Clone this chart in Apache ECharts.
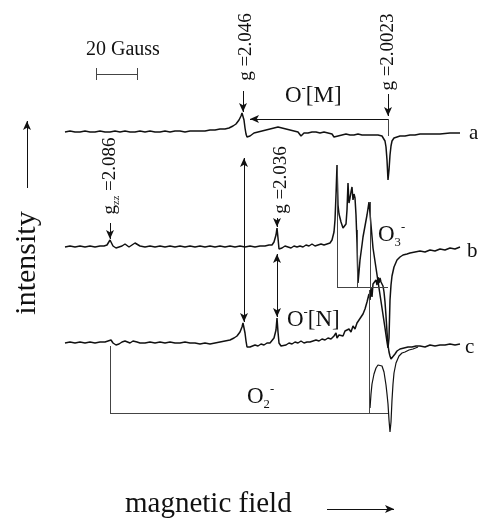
<!DOCTYPE html>
<html>
<head>
<meta charset="utf-8">
<script src="https://cdn.jsdelivr.net/npm/echarts@6/dist/echarts.min.js"></script>
<style>html,body{margin:0;padding:0;background:#fff;}#c{width:478px;height:520px;}</style>
</head>
<body>
<div id="c"></div>
<script>
// Field (horizontal, plot units) and signal (vertical, plot units, increasing downward)
const spectrumA = [[65,132],[70,131],[75,132],[80,132],[85,131],[90,132],[95,132],[100,131],[105,132],[110,132],[115,131],[120,132],[125,131],[130,132],[135,132],[140,131],[145,132],[150,131],[155,132],[160,132],[165,131],[170,132],[175,131],[180,131],[185,132],[190,131],[195,131],[200,131],[205,131],[210,130],[215,130],[220,129],[225,129],[229,128],[233,126],[236,124],[239,120],[241,116],[242,113],[243,114],[244,120],[245,128],[246,134],[247,137],[248,138],[250,136],[252,134],[254,133],[256,134],[258,132],[260,133],[262,131],[264,132],[266,130],[268,131],[270,129],[272,130],[274,128],[276,129],[278,127],[280,129],[282,128],[284,130],[286,129],[288,131],[290,130],[292,132],[294,131],[296,133],[298,132],[300,134],[301,136],[302,137],[303,135],[304,133],[306,132],[308,133],[310,131],[312,132],[314,130],[316,132],[318,131],[320,133],[322,131],[324,132],[326,131],[328,133],[330,132],[332,134],[334,137],[336,138],[338,136],[340,137],[342,135],[344,136],[346,134],[348,136],[350,135],[352,137],[354,135],[356,136],[358,134],[360,136],[362,135],[364,137],[366,135],[368,136],[370,135],[372,137],[374,135],[376,136],[378,135],[380,137],[382,136],[384,138],[385,141],[386,147],[387,160],[388,180],[389,170],[390,155],[391,146],[392,141],[394,138],[397,137],[400,136],[405,136],[410,135],[415,135],[420,134],[430,134],[440,134],[450,133],[460,133]];

const spectrumB = [[65,247],[70,246],[75,247],[80,246],[85,247],[90,246],[95,247],[100,246],[104,246],[107,245],[109,243],[110,240],[111,242],[113,246],[116,248],[119,247],[122,246],[125,244],[127,246],[129,247],[132,245],[135,243],[137,245],[140,246],[145,247],[150,246],[155,247],[160,246],[165,247],[170,246],[175,247],[180,246],[185,247],[190,246],[195,247],[200,246],[205,247],[210,246],[215,247],[220,246],[225,247],[230,246],[235,247],[240,246],[245,247],[250,246],[255,247],[260,246],[265,246],[269,245],[272,245],[274,242],[276,235],[277,228],[278,238],[279,249],[280,251],[282,248],[285,246],[288,247],[291,248],[294,246],[297,247],[300,246],[303,247],[306,245],[309,246],[312,244],[315,246],[318,245],[321,244],[324,245],[327,244],[330,243],[332,240],[334,232],[335,220],[336,195],[337,165],[338,205],[339,214],[341,222],[343,228],[345,230],[346,224],[347,210],[348,183],[349,203],[350,198],[351,192],[352,187],[353,200],[354,194],[355,198],[356,215],[357,243],[358,283],[359,272],[360,260],[362,245],[363,237],[365,226],[367,215],[369,202],[371,225],[373,248],[376,268],[379,288],[382,308],[385,328],[387,342],[388,348],[389,338],[390,300],[391,285],[392,276],[394,267],[397,260],[400,257],[403,255],[407,254],[410,253],[415,252],[420,251],[425,252],[430,250],[435,251],[440,249],[445,250],[450,248],[455,249],[460,247]];

const spectrumC = [[65,343],[70,342],[75,343],[80,342],[85,343],[90,342],[95,343],[100,342],[105,342],[108,341],[110,339],[111,340],[113,343],[116,345],[119,344],[122,342],[125,341],[127,343],[130,343],[133,341],[135,340],[137,342],[140,343],[145,343],[150,342],[155,343],[160,342],[165,343],[170,342],[175,343],[180,343],[185,342],[190,343],[195,343],[200,344],[205,343],[210,344],[215,343],[220,342],[225,341],[230,340],[234,338],[237,336],[240,332],[242,327],[243,323],[244,325],[245,333],[246,341],[247,347],[248,348],[250,347],[252,346],[255,345],[258,346],[261,344],[264,345],[267,343],[270,343],[272,341],[274,338],[276,330],[277,318],[278,332],[279,343],[281,346],[283,344],[286,345],[289,343],[292,344],[295,342],[298,343],[301,341],[304,343],[307,342],[310,342],[313,341],[316,340],[319,341],[322,339],[325,340],[328,338],[331,339],[334,336],[336,333],[337,338],[339,335],[341,333],[343,336],[345,331],[347,333],[349,329],[351,332],[353,326],[355,329],[357,323],[359,322],[361,317],[363,314],[365,309],[367,302],[369,294],[370,300],[371,288],[372,297],[373,284],[375,286],[376,280],[377,285],[378,277],[379,283],[380,278],[381,282],[382,281],[383,286],[384,292],[385,302],[386,316],[387,332],[388,345],[389,352],[390,356],[391,359],[392,360],[393,358],[395,354],[397,351],[400,349],[404,348],[408,347],[412,347],[416,346],[420,346],[425,347],[430,345],[435,346],[440,345],[445,345],[450,344],[455,345],[460,344]];

const spectrumO2 = [[370,408],[371,394],[372,384],[374,374],[376,368],[378,365],[380,363],[382,366],[384,372],[386,385],[387,394],[388,404],[389,420],[390,432],[391,422],[392,400],[393,384],[394,373],[396,363],[399,356],[402,353],[405,352],[409,350],[413,349],[418,347]];

// Brackets and guide segments [[x1,y1],[x2,y2]]
const bracketSegments = [
  [[388,136],[388,119]],
  [[337,165],[337,287]],[[357,230],[357,287]],[[370,202],[370,287]],[[337,287],[388,287]],
  [[110,346],[110,413]],[[110,413],[388,413]],[[369,290],[369,413]],
  [[96,74],[137,74]],[[96,68],[96,80]],[[137,68],[137,80]]
];
// Single-headed arrows (head at second point)
const arrowSegments = [
  [[243,91],[243,112]],[[388,94],[388,116]],[[110,223],[110,239]],[[277,218],[277,227]],
  [[388,119],[250,119]],[[27,188],[27,121]],[[327,509],[394,509]]
];
// Double-headed arrows
const doubleArrows = [[[244,158],[244,322]],[[277,254],[277,317]]];

const FONT = "'Liberation Serif','Times New Roman',serif";

function spec(data, w){
  return {type:'line', data:data, symbol:'none', silent:true, animation:false,
    lineStyle:{color:'#111', width:w}};
}
const markLines = [];
bracketSegments.forEach(s=>markLines.push([{coord:s[0],symbol:'none'},{coord:s[1],symbol:'none',lineStyle:{color:'#444',width:1}}]));
arrowSegments.forEach(s=>markLines.push([{coord:s[0],symbol:'none'},{coord:s[1],symbol:'arrow',symbolSize:[6,9]}]));
doubleArrows.forEach(s=>markLines.push([{coord:s[0],symbol:'arrow',symbolSize:[6,9]},{coord:s[1],symbol:'arrow',symbolSize:[6,9]}]));

function txt(x,y,text,size,opts){
  opts = opts||{};
  return {type:'text', x:x, y:y, rotation:opts.rot||0, silent:true,
    style:Object.assign({text:text, font:size+'px '+FONT, fill:'#111',
      align:opts.align||'left', textAlign:opts.align||'left',
      verticalAlign:'middle', textVerticalAlign:'middle'}, opts.rich?{rich:opts.rich}:{})};
}
const richBase = (s)=>({
  n:{fontSize:s, fontFamily:FONT, lineHeight:s*1.2, verticalAlign:'middle', fill:'#111'},
  sup:{fontSize:s*0.55, fontFamily:FONT, lineHeight:s*1.2, verticalAlign:'top', fill:'#111'},
  sub:{fontSize:s*0.55, fontFamily:FONT, lineHeight:s*1.2, verticalAlign:'bottom', fill:'#111'}
});
const R = Math.PI/2;

const chart = echarts.init(document.getElementById('c'), null, {renderer:'canvas'});
chart.setOption({
  backgroundColor:'#fff',
  animation:false,
  grid:{left:0,right:0,top:0,bottom:0},
  xAxis:{type:'value',min:0,max:478,show:false},
  yAxis:{type:'value',min:0,max:520,inverse:true,show:false},
  series:[
    spec(spectrumA,1.5), spec(spectrumB,1.5), spec(spectrumC,1.5), spec(spectrumO2,1.2),
    {type:'line', data:[], symbol:'none', silent:true,
     markLine:{silent:true, animation:false, symbol:'none', label:{show:false},
       lineStyle:{color:'#111', width:1, type:'solid'}, emphasis:{disabled:true}, data:markLines}}
  ],
  graphic:[
    txt(86,50,'20 Gauss',20),
    txt(246,47,'{n|g =2.046}',19,{rot:R,align:'center',rich:richBase(19)}),
    txt(388,52,'{n|g =2.0023}',19,{rot:R,align:'center',rich:richBase(19)}),
    txt(281,180,'{n|g =2.036}',19,{rot:R,align:'center',rich:richBase(19)}),
    txt(110,176,'{n|g}{sub|zz}{n| =2.086}',19,{rot:R,align:'center',rich:richBase(19)}),
    txt(285,96,'{n|O}{sup|-}{n|[M]}',23,{rich:richBase(23)}),
    txt(287,320,'{n|O}{sup|-}{n|[N]}',23,{rich:richBase(23)}),
    txt(378,235,'{n|O}{sub|3}{sup|-}',23,{rich:richBase(23)}),
    txt(247,397,'{n|O}{sub|2}{sup|-}',23,{rich:richBase(23)}),
    txt(469,133,'a',21),
    txt(467,251,'b',21),
    txt(465,347,'c',21),
    txt(27,263,'intensity',30,{rot:R,align:'center'}),
    txt(125,504,'magnetic field',29)
  ]
});
</script>
</body>
</html>
